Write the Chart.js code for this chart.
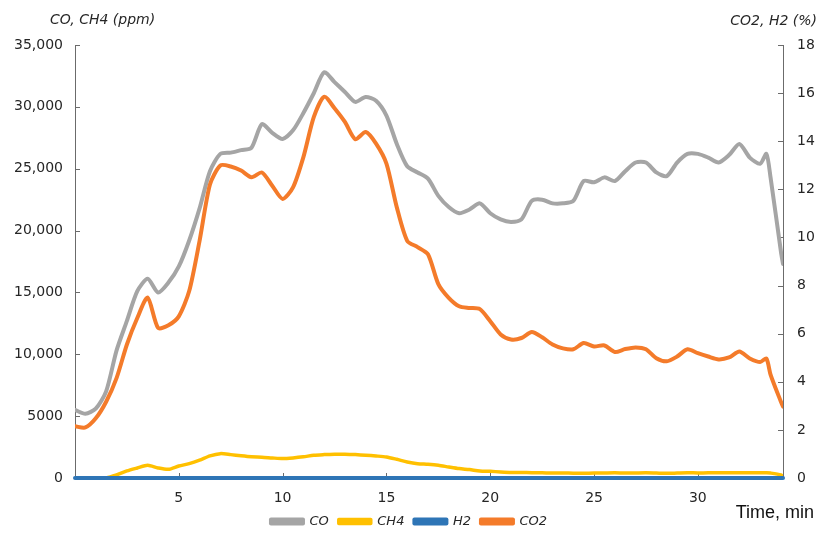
<!DOCTYPE html>
<html>
<head>
<meta charset="utf-8">
<script src="https://cdn.jsdelivr.net/npm/chart.js@4/dist/chart.umd.min.js"></script>
<style>
  html, body { margin: 0; padding: 0; background: #fff; }
  #wrap { width: 818px; height: 534px; }
</style>
</head>
<body>
<div id="wrap"><canvas id="gasChart" width="818" height="534"></canvas></div>
<script>
// time, min
const time = [0, 0.5, 1, 1.5, 2, 2.5, 3, 3.5, 4, 4.5, 5, 5.5, 6, 6.5, 7, 7.5, 8, 8.5, 9, 9.5,
  10, 10.5, 11, 11.5, 12, 12.5, 13, 13.5, 14, 14.5, 15, 15.5, 16, 16.5, 17, 17.5, 18, 18.5, 19, 19.5,
  20, 20.5, 21, 21.5, 22, 22.5, 23, 23.5, 24, 24.5, 25, 25.5, 26, 26.5, 27, 27.5, 28, 28.5, 29, 29.5,
  30, 30.5, 31, 31.5, 32, 32.5, 33, 33.3, 33.5, 34, 34.1];

// ppm (left axis)
const co = [5500, 5200, 5600, 7000, 10300, 12700, 15100, 16100, 15000, 15800, 17100, 19200, 21800, 24800, 26200, 26300, 26500, 26700, 28600, 27900,
  27400, 28100, 29500, 31100, 32800, 32000, 31200, 30400, 30800, 30500, 29300, 27000, 25200, 24700, 24200, 22800, 21900, 21400, 21700, 22200,
  21400, 20900, 20700, 20900, 22400, 22500, 22200, 22200, 22400, 24000, 23900, 24300, 24000, 24800, 25500, 25500, 24700, 24400, 25500, 26200,
  26200, 25900, 25500, 26100, 27000, 25900, 25400, 26200, 24300, 18300, 17300];
const ch4 = [0, 0, 0, 0, 240, 570, 810, 1030, 810, 700, 970, 1160, 1440, 1790, 1970, 1890, 1790, 1710, 1680, 1620,
  1570, 1620, 1710, 1840, 1890, 1920, 1920, 1890, 1840, 1780, 1700, 1510, 1300, 1160, 1110, 1030, 890, 760, 680, 570,
  540, 490, 450, 440, 430, 420, 400, 410, 380, 380, 400, 410, 420, 400, 410, 420, 400, 380, 400, 420,
  410, 420, 430, 420, 430, 420, 430, 420, 400, 250, 100];

// % (right axis)
const h2 = time.map(() => 0);
const co2 = [2.15, 2.1, 2.48, 3.17, 4.15, 5.55, 6.65, 7.5, 6.24, 6.35, 6.72, 7.77, 9.86, 12.2, 12.99, 12.95, 12.78, 12.5, 12.7, 12.15,
  11.6, 12.08, 13.34, 15.0, 15.85, 15.37, 14.8, 14.08, 14.38, 13.9, 13.07, 11.25, 9.86, 9.6, 9.3, 8.06, 7.49, 7.14, 7.07, 7.02,
  6.52, 5.97, 5.76, 5.82, 6.07, 5.85, 5.55, 5.39, 5.35, 5.61, 5.47, 5.51, 5.24, 5.36, 5.43, 5.35, 4.98, 4.85, 5.05, 5.35,
  5.19, 5.05, 4.93, 5.01, 5.26, 4.97, 4.82, 4.97, 4.3, 3.17, 2.97];

const leftTicks = ['0', '5000', '10,000', '15,000', '20,000', '25,000', '30,000', '35,000'];
const rightTicks = ['0', '2', '4', '6', '8', '10', '12', '14', '16', '18'];
const xTicks = ['', '5', '10', '15', '20', '25', '30'];

const pts = (arr) => arr.map((v, i) => ({ x: time[i], y: v }));

const axisColor = '#6b6b6b';
const tickFont = { family: 'DejaVu Sans', size: 14 };

// small inward tick marks + axis captions
const extras = {
  id: 'extras',
  beforeDatasetsDraw(chart) {
    const { ctx, chartArea: a, scales } = chart;
    ctx.save();
    ctx.strokeStyle = axisColor;
    ctx.lineWidth = 1;
    ctx.beginPath();
    scales.y.ticks.forEach(t => {
      const y = Math.round(scales.y.getPixelForValue(t.value)) + 0.5;
      ctx.moveTo(a.left, y); ctx.lineTo(a.left + 5, y);
    });
    scales.y1.ticks.forEach(t => {
      const y = Math.round(scales.y1.getPixelForValue(t.value)) + 0.5;
      ctx.moveTo(a.right, y); ctx.lineTo(a.right - 5, y);
    });
    scales.x.ticks.forEach(t => {
      const x = Math.round(scales.x.getPixelForValue(t.value)) + 0.5;
      ctx.moveTo(x, a.bottom); ctx.lineTo(x, a.bottom - 5);
    });
    ctx.stroke();
    ctx.restore();
  },
  afterDraw(chart) {
    const { ctx } = chart;
    ctx.save();
    ctx.fillStyle = '#262626';
    ctx.textBaseline = 'middle';
    ctx.font = 'italic 14px "DejaVu Sans"';
    ctx.textAlign = 'left';
    ctx.fillText('CO, CH4 (ppm)', 50, 20);
    ctx.textAlign = 'right';
    ctx.fillText('CO2, H2 (%)', 817, 21);
    ctx.font = '18px "Liberation Sans"';
    ctx.fillStyle = '#111';
    ctx.fillText('Time, min', 814, 513);
    ctx.restore();
  }
};

new Chart(document.getElementById('gasChart'), {
  type: 'line',
  data: {
    datasets: [
      { label: 'CO', data: pts(co), yAxisID: 'y', borderColor: '#A5A5A5', backgroundColor: '#A5A5A5', borderWidth: 4, order: 2 },
      { label: 'CH4', data: pts(ch4), yAxisID: 'y', borderColor: '#FFC000', backgroundColor: '#FFC000', borderWidth: 3.5, order: 2 },
      { label: 'H2', data: pts(h2), yAxisID: 'y1', borderColor: '#2E75B6', backgroundColor: '#2E75B6', borderWidth: 4, order: 1, clip: 6 },
      { label: 'CO2', data: pts(co2), yAxisID: 'y1', borderColor: '#F47B2A', backgroundColor: '#F47B2A', borderWidth: 4, order: 1 }
    ]
  },
  options: {
    responsive: false,
    animation: false,
    layout: { padding: { top: 45, left: 0, right: 0, bottom: -4 } },
    elements: {
      point: { radius: 0 },
      line: { tension: 0.25, borderCapStyle: 'round', borderJoinStyle: 'round' }
    },
    plugins: {
      legend: {
        position: 'bottom',
        labels: {
          boxWidth: 32,
          boxHeight: 4,
          padding: 10,
          color: '#262626',
          font: { family: 'DejaVu Sans', size: 13, style: 'italic' },
          sort: (a, b) => a.datasetIndex - b.datasetIndex
        }
      },
      tooltip: { enabled: false }
    },
    scales: {
      x: {
        type: 'linear',
        min: 0,
        max: 34.1,
        grid: { display: false, drawTicks: false },
        border: { display: true, color: axisColor },
        ticks: {
          stepSize: 5,
          includeBounds: false,
          padding: 12,
          color: '#262626',
          font: tickFont,
          maxRotation: 0,
          callback: (v) => xTicks[v / 5] ?? ''
        },
        afterFit: (s) => { s.height = 27; }
      },
      y: {
        position: 'left',
        min: 0,
        max: 35000,
        grid: { display: false, drawTicks: false },
        border: { display: true, color: axisColor },
        ticks: {
          stepSize: 5000,
          padding: 12,
          color: '#262626',
          font: tickFont,
          callback: (v) => leftTicks[v / 5000]
        },
        afterFit: (s) => { s.width = 75; }
      },
      y1: {
        position: 'right',
        min: 0,
        max: 18,
        grid: { display: false, drawTicks: false },
        border: { display: true, color: axisColor },
        ticks: {
          stepSize: 2,
          padding: 14,
          color: '#262626',
          font: tickFont,
          callback: (v) => rightTicks[v / 2]
        },
        afterFit: (s) => { s.width = 35; }
      }
    }
  },
  plugins: [extras]
});
</script>
</body>
</html>
